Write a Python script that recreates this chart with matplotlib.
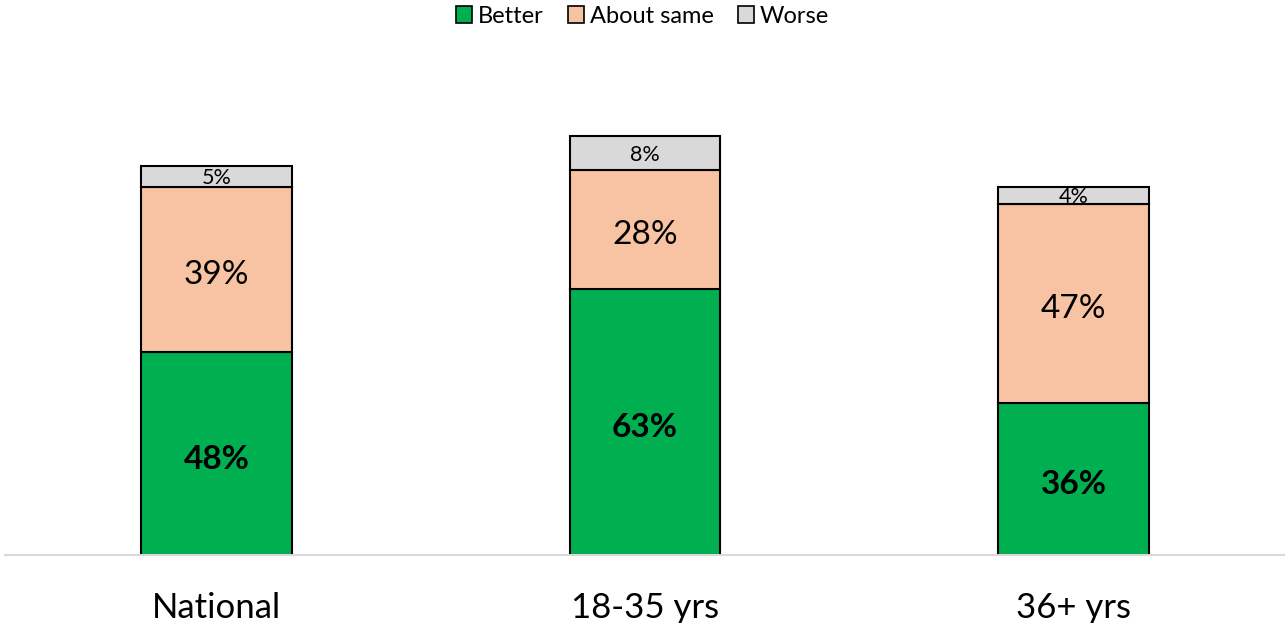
import matplotlib
matplotlib.use("Agg")
import matplotlib.pyplot as plt
from matplotlib.patches import Patch

categories = ["National", "18-35 yrs", "36+ yrs"]
better = [48, 63, 36]
about_same = [39, 28, 47]
worse = [5, 8, 4]
series_names = ["Better", "About same", "Worse"]
colors = ["#00B050", "#F8C3A2", "#D9D9D9"]

plt.rcParams['font.family'] = ['Lato', 'DejaVu Sans']

fig = plt.figure(figsize=(12.85, 6.23), dpi=100)
W, H = 1285, 623
ax = fig.add_axes([5 / W, (H - 555) / H, 1280 / W, (555 - 40) / H])

x = list(range(len(categories)))
width = 0.352
bottoms = [0] * len(categories)
for vals, col, name in zip([better, about_same, worse], colors, series_names):
    bars = ax.bar(x, vals, width=width, bottom=bottoms, color=col,
                  edgecolor="black", linewidth=1.5, label=name, zorder=3)
    for xi, v, b in zip(x, vals, bottoms):
        if name == "Better":
            fs, fw, dy = 24, "bold", -4
        elif name == "About same":
            fs, fw, dy = 24, "normal", -4
        else:
            fs, fw, dy = 15.5, "normal", -1
        ax.annotate(f"{v}%", xy=(xi, b + v / 2), xytext=(0, dy),
                    textcoords="offset points", ha="center", va="center",
                    fontsize=fs, fontweight=fw, color="black", zorder=4)
    bottoms = [b + v for b, v in zip(bottoms, vals)]

ax.set_xlim(-0.4936, 2.4936)
ax.set_ylim(0, 515 / 4.23)
ax.set_xticks(x)
ax.set_xticklabels(categories, fontsize=25)
ax.tick_params(axis="x", length=0, pad=27)
ax.set_yticks([])
for s in ["top", "right", "left"]:
    ax.spines[s].set_visible(False)
ax.spines["bottom"].set_color("#D9D9D9")
ax.spines["bottom"].set_linewidth(1.5)
ax.spines["bottom"].set_zorder(5)

handles = [Patch(facecolor=c, edgecolor="black", linewidth=1.2) for c in colors]
fig.legend(handles, series_names, loc="upper center", bbox_to_anchor=(0.5, 1.025),
           ncol=3, frameon=False, fontsize=17, handlelength=0.7, handleheight=0.7,
           handletextpad=0.25, columnspacing=1.0)

fig.savefig("out.png", dpi=100)
